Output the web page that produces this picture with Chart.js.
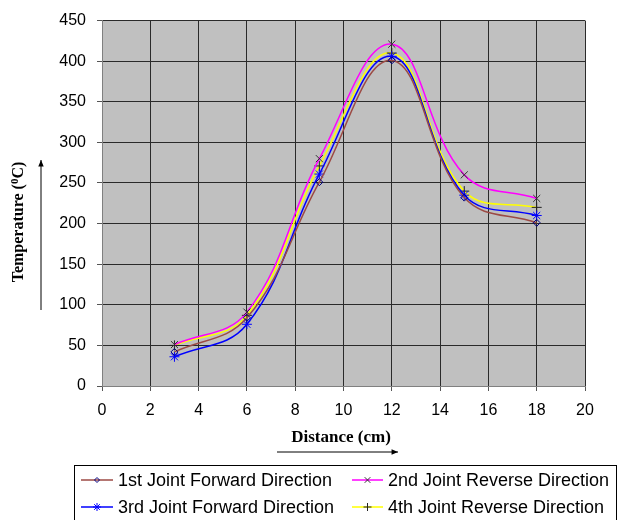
<!DOCTYPE html>
<html>
<head>
<meta charset="utf-8">
<script src="https://cdn.jsdelivr.net/npm/chart.js@4.4.0/dist/chart.umd.min.js"></script>
<style>
  html, body { margin: 0; padding: 0; background: #fff; }
  #wrap { width: 622px; height: 520px; position: relative; }
</style>
</head>
<body>
<div id="wrap"><canvas id="chart" width="622" height="520"></canvas></div>
<script>
// distance along the joint (cm)
const distance = [3, 6, 9, 12, 15, 18];

// temperatures (deg C)
const joint1Fwd = [42, 84, 251, 401, 232, 201];
const joint2Rev = [51, 91, 280, 421, 260, 231];
const joint3Fwd = [36, 76, 261, 406, 235, 210];
const joint4Rev = [50, 87, 271, 410, 240, 220];

const seriesNames = [
  '1st Joint Forward Direction',
  '2nd Joint Reverse Direction',
  '3rd Joint Forward Direction',
  '4th Joint Reverse Direction'
];

function pts(ys) {
  return ys.map((y, i) => ({ x: distance[i], y: y }));
}

const FONT = 'Arial, "Liberation Sans", sans-serif';
const SERIF = '"Times New Roman", "Liberation Serif", serif';

// axis titles, arrows and the boxed legend like the Excel original
const decorations = {
  id: 'decorations',
  afterDraw(chart) {
    const ctx = chart.ctx;
    ctx.save();
    ctx.fillStyle = '#000';
    ctx.strokeStyle = '#000';

    // x title + arrow
    ctx.font = 'bold 17px ' + SERIF;
    ctx.textAlign = 'center';
    ctx.textBaseline = 'middle';
    ctx.fillText('Distance (cm)', 341, 438);
    arrow(ctx, 277, 452, 398, 452);

    // y title (rotated) with superscript 0
    ctx.save();
    ctx.translate(19, 222);
    ctx.rotate(-Math.PI / 2);
    const a = 'Temperature (', b = '0', c = 'C)';
    ctx.font = 'bold 16px ' + SERIF;
    const wa = ctx.measureText(a).width, wc = ctx.measureText(c).width;
    ctx.font = 'bold 11px ' + SERIF;
    const wb = ctx.measureText(b).width;
    let x = -(wa + wb + wc) / 2;
    ctx.textAlign = 'left';
    ctx.textBaseline = 'middle';
    ctx.font = 'bold 16px ' + SERIF;
    ctx.fillText(a, x, 0); x += wa;
    ctx.font = 'bold 11px ' + SERIF;
    ctx.fillText(b, x, -4); x += wb;
    ctx.font = 'bold 16px ' + SERIF;
    ctx.fillText(c, x, 0);
    ctx.restore();
    arrow(ctx, 41, 310, 41, 160);

    // legend box
    ctx.strokeStyle = '#000';
    ctx.lineWidth = 1;
    ctx.strokeRect(74.5, 465.5, 542, 70);
    const cols = [[81, 113, 118], [352, 383, 388]];
    const rows = [480, 507];
    chart.data.datasets.forEach((ds, i) => {
      const col = cols[i % 2], ry = rows[Math.floor(i / 2)];
      ctx.strokeStyle = ds.borderColor;
      ctx.lineWidth = 1.5;
      ctx.beginPath();
      ctx.moveTo(col[0], ry);
      ctx.lineTo(col[1], ry);
      ctx.stroke();
      ctx.strokeStyle = ds.pointBorderColor;
      ctx.fillStyle = 'rgba(0,0,0,0)';
      ctx.lineWidth = 1;
      Chart.helpers.drawPoint(ctx, {
        pointStyle: ds.pointStyle,
        radius: ds.pointRadius - 1,
        borderWidth: 1
      }, (col[0] + col[1]) / 2, ry);
      ctx.fillStyle = '#000';
      ctx.font = '18px ' + FONT;
      ctx.textAlign = 'left';
      ctx.textBaseline = 'middle';
      ctx.fillText(seriesNames[i], col[2], ry + 1);
    });
    ctx.restore();
  }
};

function arrow(ctx, x1, y1, x2, y2) {
  ctx.lineWidth = 1;
  ctx.strokeStyle = '#000';
  ctx.fillStyle = '#000';
  ctx.beginPath();
  ctx.moveTo(x1, y1);
  ctx.lineTo(x2, y2);
  ctx.stroke();
  const ang = Math.atan2(y2 - y1, x2 - x1);
  ctx.beginPath();
  ctx.moveTo(x2, y2);
  ctx.lineTo(x2 - 7 * Math.cos(ang - 0.4), y2 - 7 * Math.sin(ang - 0.4));
  ctx.lineTo(x2 - 7 * Math.cos(ang + 0.4), y2 - 7 * Math.sin(ang + 0.4));
  ctx.closePath();
  ctx.fill();
}

// grey plot area
const plotBg = {
  id: 'plotBg',
  beforeDraw(chart) {
    const a = chart.chartArea, ctx = chart.ctx;
    ctx.save();
    ctx.fillStyle = '#c0c0c0';
    ctx.fillRect(a.left, a.top, a.right - a.left, a.bottom - a.top);
    ctx.restore();
  }
};

function ds(data, color, style, r, markColor) {
  return {
    data: pts(data),
    borderColor: color,
    borderWidth: 1.5,
    pointStyle: style,
    pointRadius: r,
    pointBorderColor: markColor,
    pointBackgroundColor: 'transparent',
    pointBorderWidth: 1,
    tension: 0.4,
    fill: false
  };
}

new Chart(document.getElementById('chart'), {
  type: 'line',
  data: {
    datasets: [
      ds(joint1Fwd, '#9c4a44', 'rectRot', 3.5, '#000080'),
      ds(joint2Rev, '#ff00ff', 'crossRot', 5, '#333'),
      ds(joint3Fwd, '#0000ff', 'star', 5, '#0000ff'),
      ds(joint4Rev, '#ffff00', 'cross', 5, '#222')
    ]
  },
  options: {
    responsive: false,
    animation: false,
    layout: { padding: { left: 0, right: 37, top: 20, bottom: 0 } },
    plugins: { legend: { display: false }, tooltip: { enabled: false } },
    scales: {
      x: {
        type: 'linear',
        min: 0, max: 20,
        ticks: { stepSize: 2, color: '#000', font: { family: FONT, size: 16 }, padding: 10 },
        grid: { color: '#2a2a2a', lineWidth: 1, tickLength: 5, tickColor: '#555' },
        border: { color: '#808080', width: 1 },
        afterFit(s) { s.height = 134; }
      },
      y: {
        min: 0, max: 450,
        ticks: { stepSize: 50, color: '#000', font: { family: FONT, size: 16 }, padding: 11 },
        grid: { color: '#2a2a2a', lineWidth: 1, tickLength: 5, tickColor: '#555' },
        border: { color: '#808080', width: 1 },
        afterFit(s) { s.width = 102; }
      }
    }
  },
  plugins: [plotBg, decorations]
});
</script>
</body>
</html>
